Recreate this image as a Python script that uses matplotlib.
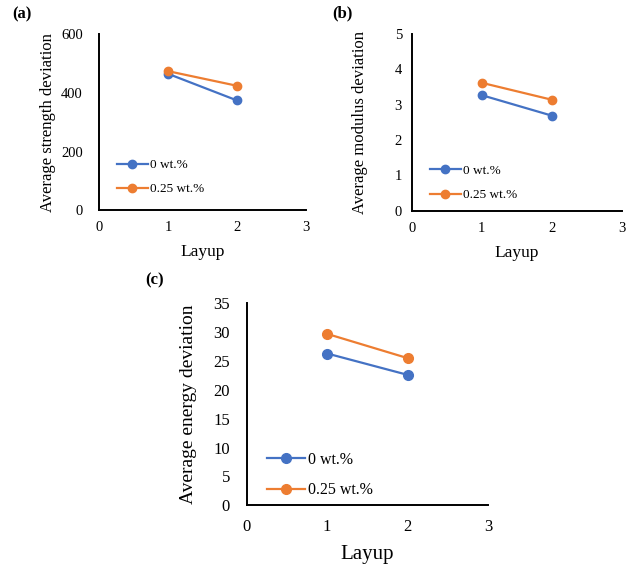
import matplotlib
matplotlib.use("Agg")
import matplotlib.pyplot as plt

plt.rcParams['font.family'] = ['Liberation Serif', 'DejaVu Serif']

layup = [1, 2]
labels = ["0 wt.%", "0.25 wt.%"]
colors = ["#4472C4", "#ED7D31"]

strength_0 = [465, 374]
strength_025 = [474, 424]
modulus_0 = [3.27, 2.69]
modulus_025 = [3.62, 3.14]
energy_0 = [26.3, 22.6]
energy_025 = [29.7, 25.5]


def draw(ax, s0, s1, ylabel, ymax, ystep, tick_fs, ypad, xpad, lab_fs, ylpad, xlab_fs, leg_fs, ms, leg_anchor):
    ax.plot(layup, s0, color=colors[0], marker='o', markersize=ms, linewidth=1.6, label=labels[0])
    ax.plot(layup, s1, color=colors[1], marker='o', markersize=ms, linewidth=1.6, label=labels[1])
    ax.set_xlim(0, 3)
    ax.set_ylim(0, ymax)
    ax.set_xticks([0, 1, 2, 3])
    yt = [i * ystep for i in range(int(round(ymax / ystep)) + 1)]
    ax.set_yticks(yt)
    ax.set_yticklabels([f"{v:g}" for v in yt])
    ax.spines['top'].set_visible(False)
    ax.spines['right'].set_visible(False)
    for s in ['left', 'bottom']:
        ax.spines[s].set_linewidth(1.4)
        ax.spines[s].set_color('black')
    ax.tick_params(axis='both', length=0, labelsize=tick_fs)
    ax.tick_params(axis='y', pad=ypad)
    ax.tick_params(axis='x', pad=xpad)
    ax.set_ylabel(ylabel, fontsize=lab_fs, labelpad=ylpad)
    ax.set_xlabel("Layup", fontsize=xlab_fs, labelpad=7)
    ax.legend(loc='upper left', bbox_to_anchor=leg_anchor, frameon=False, fontsize=leg_fs,
              handlelength=2.35, handletextpad=0.2, labelspacing=0.9, borderaxespad=0, borderpad=0)


fig = plt.figure(figsize=(6.3, 5.65), dpi=100)

ax1 = fig.add_axes([0.157, 0.628, 0.329, 0.3115])
draw(ax1, strength_0, strength_025, "Average strength deviation", 600, 200,
     10.5, 11.5, 8, 12, 4, 12.5, 9.5, 6, (0.085, 0.29))

ax2 = fig.add_axes([0.6535, 0.627, 0.334, 0.3127])
draw(ax2, modulus_0, modulus_025, "Average modulus deviation", 5, 1,
     10.5, 7, 8, 12, 19, 12.5, 9.5, 6, (0.085, 0.26))

ax3 = fig.add_axes([0.3916, 0.1057, 0.383, 0.3575])
draw(ax3, energy_0, energy_025, "Average energy deviation", 35, 5,
     12, 12, 10, 14, 12, 15, 11.5, 7, (0.085, 0.265))

fig.text(12 / 630, 1 - 14 / 565, "(a)", fontsize=12, fontweight='bold', va='center', ha='left')
fig.text(332 / 630, 1 - 13 / 565, "(b)", fontsize=12, fontweight='bold', va='center', ha='left')
fig.text(145 / 630, 1 - 280 / 565, "(c)", fontsize=12, fontweight='bold', va='center', ha='left')

fig.savefig("out.png", dpi=100)
